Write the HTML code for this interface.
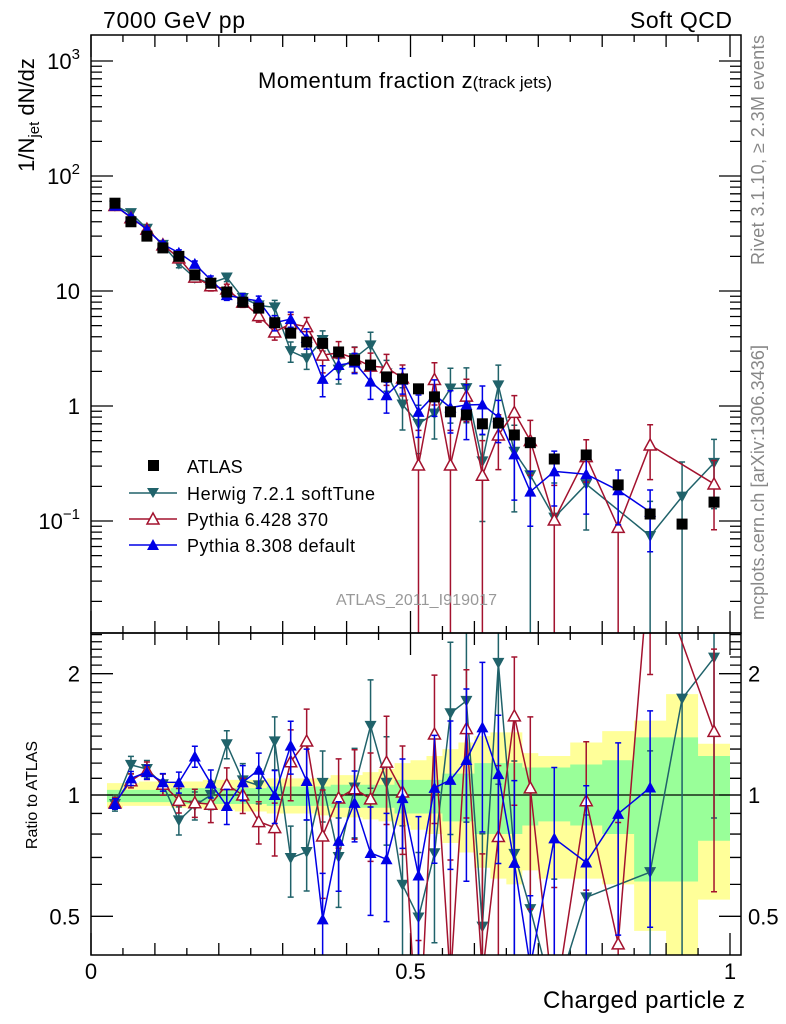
<!DOCTYPE html>
<html><head><meta charset="utf-8">
<style>
html,body{margin:0;padding:0;background:#fff;overflow:hidden;width:786px;height:1024px;}
svg{display:block;font-family:"Liberation Sans",sans-serif;}
</style></head>
<body>
<svg id="chart" width="786" height="1024" viewBox="0 0 786 1024" xmlns="http://www.w3.org/2000/svg">
<defs>
<clipPath id="clipMain"><rect x="91" y="35" width="650" height="598"/></clipPath>
<clipPath id="clipRatio"><rect x="91" y="633" width="650" height="322"/></clipPath>
</defs>
<g id="bands" clip-path="url(#clipRatio)"></g>
<g id="ticks"></g>
<line x1="91" y1="795" x2="741" y2="795" stroke="#000" stroke-width="1.3"/>
<g id="mainSeries" clip-path="url(#clipMain)"></g>
<g id="ratioSeries" clip-path="url(#clipRatio)"></g>
<rect x="91" y="35" width="650" height="598" fill="none" stroke="#000" stroke-width="1.5"/>
<rect x="91" y="633" width="650" height="322" fill="none" stroke="#000" stroke-width="1.5"/>
<g id="labels"></g>

<text x="103" y="28" font-size="23" textLength="142">7000 GeV pp</text>
<text x="630" y="28" font-size="23" textLength="102">Soft QCD</text>
<text x="258" y="88" font-size="22"><tspan textLength="197">Momentum fraction</tspan> z<tspan font-size="17">(track jets)</tspan></text>
<text transform="translate(34,115) rotate(-90)" font-size="22" text-anchor="middle">1/N<tspan font-size="15" dy="5">jet</tspan><tspan dy="-5"> dN/dz</tspan></text>
<text transform="translate(37,795) rotate(-90)" font-size="16" text-anchor="middle">Ratio to ATLAS</text>
<text x="543" y="1008" font-size="24" textLength="202">Charged particle z</text>
<text transform="translate(764,265) rotate(-90)" font-size="18" fill="#888" textLength="230">Rivet 3.1.10, ≥ 2.3M events</text>
<text transform="translate(764,620) rotate(-90)" font-size="18" fill="#888" textLength="275">mcplots.cern.ch [arXiv:1306.3436]</text>
<text x="336" y="605" font-size="16" fill="#999" textLength="161">ATLAS_2011_I919017</text>

<g>
<rect x="148" y="460" width="11" height="11" fill="#000"/>
<text x="187" y="473" font-size="18">ATLAS</text>
<line x1="129" y1="493" x2="177" y2="493" stroke="#20626a" stroke-width="1.5"/>
<path d="M147,488 L159,488 L153,498 Z" fill="#20626a"/>
<text x="187" y="500" font-size="18" textLength="188">Herwig 7.2.1 softTune</text>
<line x1="129" y1="519" x2="177" y2="519" stroke="#a3122e" stroke-width="1.5"/>
<path d="M147,524 L159,524 L153,513 Z" fill="#fff" stroke="#a3122e" stroke-width="1.5"/>
<text x="187" y="526" font-size="18" textLength="141">Pythia 6.428 370</text>
<line x1="129" y1="545" x2="177" y2="545" stroke="#0000e6" stroke-width="1.5"/>
<path d="M147,550 L159,550 L153,539 Z" fill="#0000e6"/>
<text x="187" y="552" font-size="18" textLength="168">Pythia 8.308 default</text>
</g>
</svg>
<script>
// bin centres (z)
const zCenters = [0.0375,0.0625,0.0875,0.1125,0.1375,0.1625,0.1875,0.2125,0.2375,0.2625,0.2875,0.3125,0.3375,0.3625,0.3875,0.4125,0.4375,0.4625,0.4875,0.5125,0.5375,0.5625,0.5875,0.6125,0.6375,0.6625,0.6875,0.725,0.775,0.825,0.875,0.925,0.975];
const binLo = [0.025,0.05,0.075,0.1,0.125,0.15,0.175,0.2,0.225,0.25,0.275,0.3,0.325,0.35,0.375,0.4,0.425,0.45,0.475,0.5,0.525,0.55,0.575,0.6,0.625,0.65,0.675,0.7,0.75,0.8,0.85,0.9,0.95];
const binHi = [0.05,0.075,0.1,0.125,0.15,0.175,0.2,0.225,0.25,0.275,0.3,0.325,0.35,0.375,0.4,0.425,0.45,0.475,0.5,0.525,0.55,0.575,0.6,0.625,0.65,0.675,0.7,0.75,0.8,0.85,0.9,0.95,1.0];
const atlasVals = [58,40,30,23.7,20,13.8,11.7,9.8,8.0,7.1,5.3,4.3,3.6,3.5,2.95,2.5,2.27,1.79,1.72,1.41,1.2,0.89,0.835,0.70,0.71,0.56,0.48,0.346,0.375,0.206,0.115,0.094,0.146];
const herwigVals = [55.1,47.5,34.8,25.2,17.3,13.0,11.7,13.1,8.7,7.5,7.2,3.0,2.6,3.75,2.07,2.61,3.37,1.92,1.03,0.70,0.86,1.42,1.43,0.33,1.51,0.40,0.25,0.107,0.209,null,0.074,0.163,0.32];
const herwigErr = [0.04,0.05,0.05,0.06,0.08,0.08,0.08,0.08,0.1,0.1,0.15,0.2,0.2,0.2,0.25,0.25,0.3,0.3,0.4,0.45,0.4,0.5,0.5,0.7,0.5,0.7,1.0,1.0,0.6,0,1.0,1.0,0.6];
const py6Vals = [55.4,43.4,34.5,25.2,19.4,13.2,11.1,10.4,8.0,6.1,4.4,5.2,4.9,2.77,2.9,2.59,2.22,2.16,1.75,0.307,1.7,0.307,1.22,0.25,0.56,0.88,0.50,0.102,0.363,0.088,0.458,null,0.21];
const py6Err = [0.03,0.04,0.05,0.06,0.07,0.08,0.1,0.1,0.1,0.12,0.15,0.2,0.2,0.3,0.25,0.25,0.3,0.3,0.3,1.0,0.4,1.0,0.4,1.0,0.5,0.4,0.5,1.0,0.4,1.0,0.5,0,0.6];
const py8Vals = [55.1,44,34.2,25.5,21.5,17.2,12.5,9.2,8.6,8.2,5.3,5.7,3.9,1.72,2.27,2.39,1.63,1.24,1.69,0.89,1.25,0.97,1.02,1.03,0.80,0.38,0.18,0.27,0.255,0.185,0.12,null,null];
const py8Err = [0.03,0.04,0.04,0.05,0.06,0.06,0.08,0.1,0.1,0.1,0.15,0.15,0.2,0.3,0.25,0.2,0.3,0.3,0.25,0.4,0.35,0.4,0.5,0.45,0.4,0.6,0.5,0.5,0.55,0.5,0.55,0,0];
// ATLAS uncertainty bands (ratio units)
const greenHi = [1.03,1.03,1.03,1.03,1.04,1.04,1.04,1.04,1.04,1.04,1.05,1.05,1.05,1.05,1.06,1.06,1.06,1.06,1.09,1.09,1.09,1.13,1.13,1.2,1.2,1.2,1.17,1.17,1.19,1.22,1.39,1.39,1.25];
const greenLo = [0.96,0.96,0.96,0.96,0.95,0.95,0.95,0.95,0.95,0.95,0.94,0.94,0.94,0.94,0.93,0.93,0.93,0.93,0.9,0.9,0.9,0.86,0.86,0.8,0.8,0.8,0.84,0.86,0.84,0.8,0.61,0.61,0.77];
const yellowHi = [1.07,1.07,1.08,1.08,1.08,1.08,1.09,1.09,1.09,1.09,1.1,1.1,1.1,1.1,1.12,1.12,1.14,1.16,1.2,1.22,1.25,1.3,1.35,1.4,1.43,1.43,1.27,1.25,1.35,1.44,1.53,1.78,1.34];
const yellowLo = [0.93,0.94,0.94,0.94,0.93,0.93,0.92,0.92,0.91,0.91,0.9,0.9,0.9,0.89,0.88,0.88,0.87,0.86,0.84,0.82,0.8,0.76,0.72,0.66,0.62,0.6,0.65,0.62,0.62,0.6,0.46,0.38,0.55];
const mainTickExps = [-1,0,1,2,3];
const mainTickLabels = ["10","1","10","10","10"];
const ratioTicks = [0.5,1,2];
const ratioTickLabels = ["0.5","1","2"];
const xTicks = [0,0.5,1];
const xTickLabels = ["0","0.5","1"];

const NS="http://www.w3.org/2000/svg";
const X0=91, XW=639;
function xPix(z){return X0+z*XW;}
function yMain(v){return 406-115*Math.log10(v);}
function yRatio(r){return 795-403*Math.log10(r);}
function mk(tag,attrs,parent){const e=document.createElementNS(NS,tag);for(const k in attrs)e.setAttribute(k,attrs[k]);parent.appendChild(e);return e;}

const bands=document.getElementById('bands');
function bandPath(hi,lo){
  let d="";
  for(let i=0;i<binLo.length;i++){
    const x1=xPix(binLo[i]),x2=xPix(binHi[i]);
    d+=`M${x1},${yRatio(hi[i])}H${x2}V${yRatio(lo[i])}H${x1}Z`;
  }
  return d;
}
const yb=mk('path',{d:bandPath(yellowHi,yellowLo),fill:'#ffff99'},bands);


const gb=mk('path',{d:bandPath(greenHi,greenLo),fill:'#99ff99'},bands);



const tk=document.getElementById('ticks');
const lb=document.getElementById('labels');
let td="";
for(let e=-2;e<=3;e++){
  for(let m=1;m<10;m++){
    const y=yMain(m*Math.pow(10,e));
    if(y<35||y>633)continue;
    const L=(m===1)?22:11;
    td+=`M91,${y}h${L}M741,${y}h${-L}`;
  }
}
for(let k=0;k<=20;k++){
  const z=k*0.05, x=xPix(z); if(x>741)continue;
  const L=(k%10===0)?22:(k%2===0?12:7);
  td+=`M${x},35v${L}M${x},633v${-L}M${x},633v${L}M${x},955v${-L}`;
}
for(let r=0.4;r<2.55;r+=0.1){
  const y=yRatio(r); if(y<633||y>955)continue;
  const isMaj=Math.abs(r-0.5)<1e-6||Math.abs(r-1)<1e-6||Math.abs(r-2)<1e-6;
  const L=isMaj?22:11;
  td+=`M91,${y}h${L}M741,${y}h${-L}`;
}
const tp=mk('path',{d:td,stroke:'#000','stroke-width':1.3,fill:'none'},tk);



mainTickExps.forEach((e,i)=>{
  const y=yMain(Math.pow(10,e));
  const t=mk('text',{x:80,y:y+8,'font-size':22,'text-anchor':'end'},lb);
  
  
  if(e===0||e===1){t.textContent=e===0?"1":"10";}
  else{
    t.textContent=mainTickLabels[i];
    const s=document.createElementNS(NS,'tspan');s.setAttribute('font-size',15);s.setAttribute('dy',-10);
    s.textContent=(e<0?"−":"")+Math.abs(e);t.appendChild(s);
  }
});
ratioTicks.forEach((r,i)=>{
  const y=yRatio(r);
  const a=mk('text',{x:80,y:y+8,'font-size':22,'text-anchor':'end'},lb);
  
  
  a.textContent=ratioTickLabels[i];
  const b=mk('text',{x:748,y:y+8,'font-size':22},lb);
  
  
  b.textContent=ratioTickLabels[i];
});
xTicks.forEach((z,i)=>{
  const t=mk('text',{x:xPix(z),y:979,'font-size':22,'text-anchor':'middle'},lb);
  
  
  t.textContent=xTickLabels[i];
});

function marker(kind,x,y,color,parent){
  let el;
  if(kind==='square'){el=mk('rect',{x:x-5.5,y:y-5.5,width:11,height:11,fill:'#000'},parent);}
  else if(kind==='down'){el=mk('path',{d:`M${x-6},${y-5}L${x+6},${y-5}L${x},${y+6}Z`,fill:color},parent);}
  else if(kind==='upOpen'){el=mk('path',{d:`M${x-6},${y+5}L${x+6},${y+5}L${x},${y-6}Z`,fill:'#fff',stroke:color,'stroke-width':1.5},parent);}
  else {el=mk('path',{d:`M${x-6},${y+5}L${x+6},${y+5}L${x},${y-6}Z`,fill:color},parent);}
  return el;
}

function drawSeries(vals,errs,color,kind,name,ratio,parent,yf,yBottom){
  const g=mk('g',{},parent);
  
  
  const pts=[];let ed="";
  for(let i=0;i<vals.length;i++){
    if(vals[i]===null)continue;
    let v=vals[i]; if(ratio)v=v/atlasVals[i];
    const x=xPix(zCenters[i]), y=yf(v);
    pts.push([x,y]);
    const e=errs[i];
    if(e>0){
      const yt=yf(v*(1+e));
      const yl=(1-e)<=0.02?yBottom:yf(v*(1-e));
      ed+=`M${x},${yt}V${yl}M${x-3},${yt}h6`;
      if(yl<yBottom)ed+=`M${x-3},${yl}h6`;
    }
  }
  const ep=mk('path',{d:ed,stroke:color,'stroke-width':1.5,fill:'none'},g);
  
  
  const ln=mk('polyline',{points:pts.map(p=>p.join(',')).join(' '),stroke:color,'stroke-width':1.5,fill:'none'},g);
  
  
  pts.forEach(p=>{
    const m=marker(kind,p[0],p[1],color,g);
    
    
  });
}
const mainG=document.getElementById('mainSeries');
const ratioG=document.getElementById('ratioSeries');
drawSeries(herwigVals,herwigErr,'#20626a','down','herwig',false,mainG,yMain,640);
drawSeries(py6Vals,py6Err,'#a3122e','upOpen','pythia6',false,mainG,yMain,640);
drawSeries(py8Vals,py8Err,'#0000e6','up','pythia8',false,mainG,yMain,640);
const ag=mk('g',{},mainG);


atlasVals.forEach((v,i)=>{
  const m=marker('square',xPix(zCenters[i]),yMain(v),'#000',ag);
  
  
});
drawSeries(herwigVals,herwigErr,'#20626a','down','herwig',true,ratioG,yRatio,960);
drawSeries(py6Vals,py6Err,'#a3122e','upOpen','pythia6',true,ratioG,yRatio,960);
drawSeries(py8Vals,py8Err,'#0000e6','up','pythia8',true,ratioG,yRatio,960);
</script>
</body></html>
